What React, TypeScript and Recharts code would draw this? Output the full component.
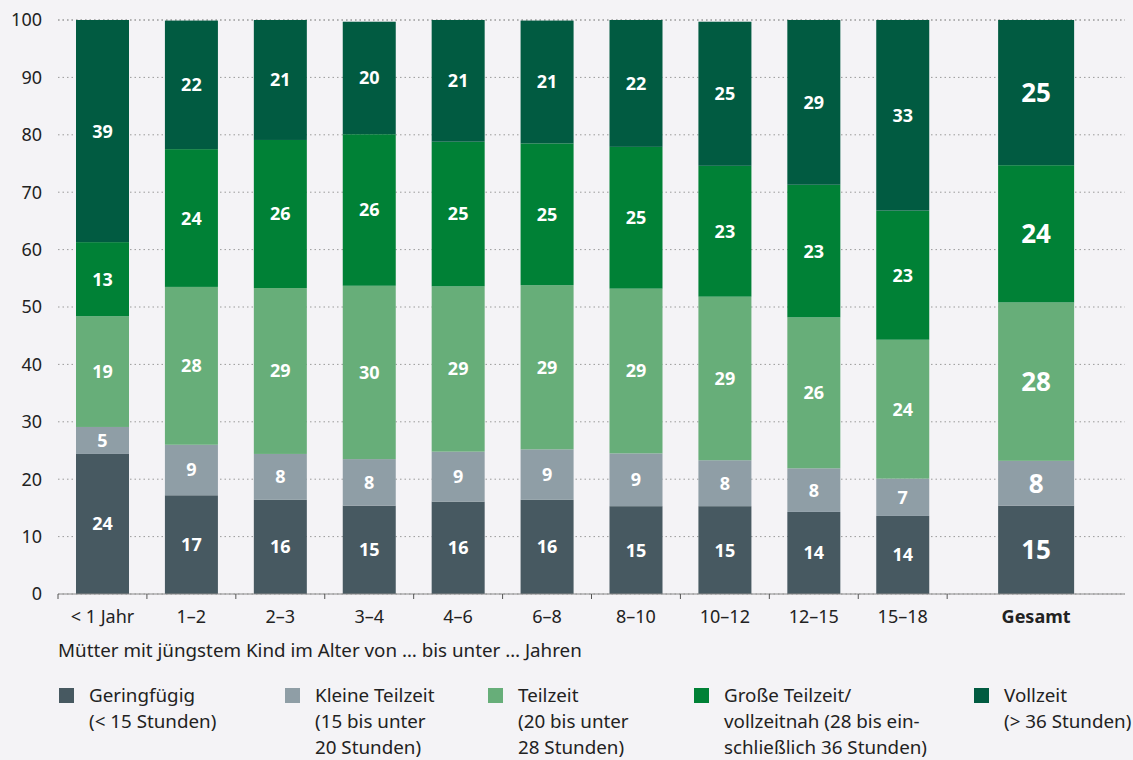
import React from 'react';
import { BarChart, Bar, XAxis, YAxis, CartesianGrid, LabelList } from 'recharts';

const FONT = '"Noto Sans", sans-serif';

const categories = ['< 1 Jahr', '1–2', '2–3', '3–4', '4–6', '6–8', '8–10', '10–12', '12–15', '15–18', 'Gesamt'];
// slot positions on the numeric category scale (Gesamt sits after a gap)
const slots = [0.5, 1.5, 2.5, 3.5, 4.5, 5.5, 6.5, 7.5, 8.5, 9.5, 11];
const boundaryTicks = [0, 1, 2, 3, 4, 5, 6, 7, 8, 9, 10];

const geringfuegig = [24.4, 17.2, 16.4, 15.4, 16.1, 16.4, 15.3, 15.3, 14.3, 13.6, 15.4];
const kleineTeilzeit = [4.7, 8.8, 8.0, 8.1, 8.7, 8.8, 9.2, 8.0, 7.6, 6.5, 7.8];
const teilzeit = [19.3, 27.5, 28.9, 30.2, 28.8, 28.6, 28.7, 28.5, 26.3, 24.2, 27.6];
const grosseTeilzeit = [12.9, 24.0, 25.8, 26.4, 25.2, 24.7, 24.7, 22.8, 23.1, 22.5, 23.9];
const vollzeit = [38.7, 22.4, 20.9, 19.6, 21.2, 21.4, 22.1, 25.1, 28.7, 33.2, 25.3];

const yTicks = [0, 10, 20, 30, 40, 50, 60, 70, 80, 90, 100];

const seriesKeys = ['ger', 'klein', 'teil', 'gross', 'voll'];
const seriesColors = ['#475961', '#8f9ea6', '#67ae79', '#008136', '#015b41'];
const legendLabels = [
  ['Geringfügig', '(< 15 Stunden)'],
  ['Kleine Teilzeit', '(15 bis unter', '20 Stunden)'],
  ['Teilzeit', '(20 bis unter', '28 Stunden)'],
  ['Große Teilzeit/', 'vollzeitnah (28 bis ein-', 'schließlich 36 Stunden)'],
  ['Vollzeit', '(> 36 Stunden)'],
];
const legendX = [59, 285, 488, 694, 974];
const axisTitle = 'Mütter mit jüngstem Kind im Alter von … bis unter … Jahren';

const GESAMT = categories.length - 1;
const WIDE_RATIO = 76 / 53;

const data = categories.map((c, i) => ({
  cat: c,
  pos: slots[i],
  ger: geringfuegig[i],
  klein: kleineTeilzeit[i],
  teil: teilzeit[i],
  gross: grosseTeilzeit[i],
  voll: vollzeit[i],
}));

const BarShape = (props: any) => {
  const { x, y, width, height, fill, index, payload } = props;
  const wide = index === GESAMT || (payload && payload.cat === 'Gesamt');
  const w = wide ? width * WIDE_RATIO : width;
  const xx = wide ? x - (w - width) / 2 : x;
  return <rect x={xx} y={y} width={w} height={height} fill={fill} />;
};

const SegLabel = (props: any) => {
  const vb = props.viewBox && props.viewBox.width != null ? props.viewBox : props;
  const { x, y, width, height } = vb;
  const big = props.index === GESAMT;
  return (
    <text
      x={x + width / 2}
      y={y + height / 2}
      dy="0.36em"
      textAnchor="middle"
      fill="#ffffff"
      fontWeight={700}
      fontSize={big ? 26 : 18}
      fontFamily={FONT}
    >
      {Math.round(Number(props.value))}
    </text>
  );
};

const XTick = (props: any) => {
  const { x, y, payload } = props;
  const v = payload.value;
  if (boundaryTicks.includes(v)) {
    return <line x1={x} x2={x} y1={y} y2={y + 5} stroke="#555" strokeWidth={1} />;
  }
  const i = slots.indexOf(v);
  if (i < 0) return null;
  return (
    <text x={x} y={y + 29} textAnchor="middle" fontSize={18} fontFamily={FONT} fill="#222" fontWeight={i === GESAMT ? 700 : 400}>
      {categories[i]}
    </text>
  );
};

const YTick = (props: any) => {
  const { x, y, payload } = props;
  return (
    <text x={x} y={y} dy="0.36em" textAnchor="end" fontSize={18} fontFamily={FONT} fill="#222">
      {payload.value}
    </text>
  );
};

export default function App() {
  const allXTicks = [...boundaryTicks, ...slots].filter((v, i, a) => a.indexOf(v) === i).sort((a, b) => a - b);
  return (
    <div
      style={{
        position: 'absolute',
        left: 0,
        top: 0,
        width: 1133,
        height: 760,
        background: '#f4f3f6',
        fontFamily: FONT,
        color: '#222',
        overflow: 'hidden',
      }}
    >
      <BarChart width={1133} height={640} data={data} margin={{ top: 20, right: 8, left: 0, bottom: 0 }}>
        <CartesianGrid vertical={false} stroke="#9a9a9a" strokeDasharray="1.5 3" />
        <YAxis
          type="number"
          domain={[0, 100]}
          ticks={yTicks}
          width={58}
          axisLine={false}
          tickLine={false}
          tickSize={0}
          tickMargin={16}
          tick={<YTick />}
          interval={0}
        />
        <XAxis
          xAxisId="show"
          type="number"
          dataKey="pos"
          domain={[0, 12]}
          ticks={allXTicks}
          interval={0}
          tick={<XTick />}
          tickLine={false}
          tickSize={0}
          tickMargin={0}
          stroke="#8a8a8a"
          height={46}
          allowDecimals
        />
        <XAxis xAxisId="bars" type="number" dataKey="pos" domain={[0, 12]} hide height={0} />
        {seriesKeys.map((k, si) => (
          <Bar
            key={k}
            xAxisId="bars"
            dataKey={k}
            stackId="a"
            fill={seriesColors[si]}
            barSize={53}
            isAnimationActive={false}
            shape={<BarShape />}
          >
            <LabelList dataKey={k} content={<SegLabel />} />
          </Bar>
        ))}
      </BarChart>
      <div
        style={{
          position: 'absolute',
          left: 58,
          top: 637,
          fontSize: 18.8,
          lineHeight: '27px',
          whiteSpace: 'nowrap',
        }}
      >
        {axisTitle}
      </div>
      {legendLabels.map((lines, i) => (
        <React.Fragment key={i}>
          <div
            style={{
              position: 'absolute',
              left: legendX[i],
              top: 688,
              width: 15,
              height: 15,
              background: seriesColors[i],
            }}
          />
          <div
            style={{
              position: 'absolute',
              left: legendX[i] + 30,
              top: 682,
              fontSize: 18.8,
              lineHeight: '26px',
              whiteSpace: 'nowrap',
            }}
          >
            {lines.map((l, j) => (
              <div key={j}>{l}</div>
            ))}
          </div>
        </React.Fragment>
      ))}
    </div>
  );
}
